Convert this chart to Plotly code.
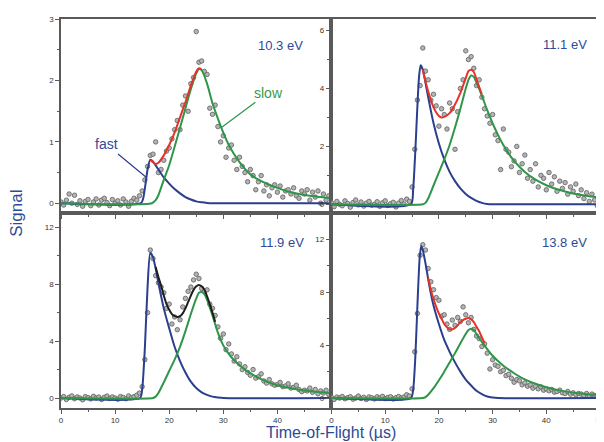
import plotly.graph_objects as go
from plotly.subplots import make_subplots

# =============================================================================
# DATA
# =============================================================================

# measured points, sampled every 0.5 us from 0 to 50 us
t_data = [i * 0.5 for i in range(101)]

sig_103 = [0.02, -0.03, 0.05, 0.15, 0.0, 0.13, -0.02, 0.04, -0.05, 0.03,
           0.06, -0.04, 0.02, 0.07, -0.03, 0.05, 0.08, 0.01, -0.04, 0.06,
           0.0, 0.04, -0.03, 0.07, 0.02, -0.05, 0.03, 0.08, 0.05, 0.12,
           0.2, 0.38, 0.6, 0.78, 0.8, 1.0, 0.5, 0.55, 0.7, 0.85,
           0.9, 1.05, 1.2, 1.35, 1.2, 1.6, 1.75, 1.5, 1.95, 2.05,
           2.8, 2.3, 2.32, 2.15, 2.1, 1.55, 1.45, 1.6, 1.25, 1.0,
           1.1, 0.75, 0.9, 0.95, 0.7, 0.55, 0.75, 0.6, 0.5, 0.35,
           0.55, 0.45, 0.22, 0.35, 0.45, 0.2, 0.3, 0.12, 0.25, 0.3,
           0.18, 0.28, 0.1, 0.2, 0.22, 0.15, 0.25, 0.12, 0.08, 0.2,
           0.15, 0.22, 0.05, 0.18, 0.1, 0.2, 0.0, 0.15, 0.05, 0.12, 0.08]

sig_111 = [0.05, -0.08, 0.1, 0.0, -0.05, 0.12, 0.03, -0.1, 0.06, 0.15,
           -0.02, 0.08, -0.06, 0.04, 0.1, -0.03, 0.0, 0.09, -0.07, 0.05,
           0.12, -0.04, 0.02, 0.07, -0.09, 0.04, 0.13, 0.01, 0.18, 0.1,
           0.6, 1.9, 3.6, 4.1, 5.4, 4.6, 4.3, 3.6, 3.8, 3.4,
           2.7, 3.3, 3.1, 2.6, 3.5, 3.3, 1.9, 3.2, 4.0, 4.3,
           5.3, 5.0, 5.1, 4.7, 4.1, 4.3, 3.7, 3.3, 3.05, 2.8,
           3.1, 2.4, 2.2, 1.2, 2.6, 1.9, 1.8, 1.3, 1.5, 2.0,
           1.1, 1.4, 1.7, 0.9, 1.2, 0.8, 1.4, 0.6, 1.0, 0.9,
           0.5, 1.1, 0.7, 0.95, 0.45, 0.8, 0.55, 0.75, 0.35, 0.6,
           0.45, 0.7, 0.3, 0.5, 0.2, 0.4, 0.1, 0.35, 0.15, -0.05, 0.2]

sig_119 = [0.0, 0.1, -0.1, 0.05, 0.15, -0.05, 0.08, 0.0, -0.12, 0.1,
           0.03, -0.06, 0.12, 0.0, 0.07, -0.1, 0.05, 0.14, -0.03, 0.08,
           0.0, -0.08, 0.1, 0.04, -0.05, 0.15, 0.02, 0.1, 0.2, 0.35,
           0.8, 2.7, 6.0, 10.4, 9.8, 8.6, 8.1, 7.8, 7.4, 6.3,
           6.6, 5.2, 5.7, 4.8, 5.5, 6.4, 7.0, 7.5, 7.8, 8.3,
           8.7, 8.4, 7.7, 7.5, 7.6, 6.6, 6.3, 5.8, 5.0, 4.2,
           4.5, 3.4, 3.8, 3.1, 2.6, 2.9, 2.4, 2.0, 2.2, 1.8,
           1.6, 2.0, 1.4, 1.5, 1.7, 1.2, 1.05, 1.3, 1.0, 0.9,
           0.95, 1.1, 0.8, 0.85, 1.0, 0.7, 0.75, 0.9, 0.6, 0.45,
           0.55, 0.5, 0.7, 0.4, 0.6, 0.3, 0.5, 0.35, 0.55, 0.25, 0.4]

sig_138 = [0.05, -0.1, 0.08, 0.0, 0.12, -0.05, 0.03, 0.1, -0.08, 0.0,
           0.15, -0.03, 0.06, -0.1, 0.09, 0.02, -0.06, 0.1, 0.0, 0.13,
           -0.04, 0.05, 0.1, -0.07, 0.03, 0.12, 0.0, 0.08, 0.25, 0.15,
           0.7, 3.5, 6.4, 10.8, 11.6, 11.2, 9.8, 8.8, 8.2, 7.6,
           7.4, 6.2, 6.3, 5.6, 5.2, 5.9, 5.5, 6.1, 5.8, 6.9,
           6.3, 5.7, 6.1, 5.2, 4.7, 4.5, 3.9, 4.1, 3.4, 2.2,
           2.9, 2.5, 2.4, 2.0, 2.1, 1.7, 1.8, 1.5, 1.2, 1.4,
           1.3, 1.0, 1.15, 0.9, 1.0, 0.75, 0.9, 0.7, 0.85, 0.6,
           0.7, 0.55, 0.65, 0.45, 0.5, 0.6, 0.4, 0.35, 0.5, 0.3,
           0.4, 0.25, 0.35, 0.3, 0.2, 0.35, 0.15, 0.3, 0.2, 0.1, 0.25]

# fitted components: fast (blue), slow (green), total (red / black)
fast_t_103 = [0, 14.8, 15.2, 15.6, 16.0, 16.5, 17, 18, 19, 20, 21, 22, 23, 24, 25, 26, 27, 28, 50]
fast_y_103 = [0, 0, 0.08, 0.3, 0.55, 0.71, 0.68, 0.55, 0.42, 0.32, 0.23, 0.16, 0.1, 0.06, 0.03, 0.015, 0.005, 0, 0]
slow_t_103 = [0, 16.8, 17.5, 18, 19, 20, 21, 22, 23, 24, 25, 25.5, 26, 27, 28, 29, 30, 31, 32, 33,
              34, 35, 36, 38, 40, 42, 44, 46, 48, 50]
slow_y_103 = [0, 0, 0.05, 0.13, 0.38, 0.62, 0.92, 1.23, 1.55, 1.86, 2.12, 2.19, 2.17, 1.95, 1.63, 1.38,
              1.15, 0.95, 0.8, 0.67, 0.56, 0.47, 0.41, 0.32, 0.25, 0.19, 0.15, 0.12, 0.1, 0.08]
sum_t_103 = [16.5, 17, 17.5, 18, 19, 20, 21, 22, 23, 24, 25, 25.5, 26]
sum_y_103 = [0.71, 0.67, 0.64, 0.66, 0.78, 0.95, 1.15, 1.4, 1.65, 1.92, 2.15, 2.2, 2.18]

fast_t_111 = [0, 14.8, 15.2, 15.6, 16.0, 16.3, 16.6, 17, 17.5, 18, 19, 20, 21, 22, 23, 24, 25, 26, 27,
              28, 29, 30, 50]
fast_y_111 = [0, 0, 0.5, 1.8, 3.4, 4.4, 4.8, 4.65, 4.2, 3.7, 2.8, 2.1, 1.55, 1.12, 0.8, 0.55, 0.36,
              0.22, 0.12, 0.05, 0.01, 0, 0]
slow_t_111 = [0, 17, 17.5, 18, 19, 20, 21, 22, 23, 24, 25, 25.5, 26, 26.5, 27, 28, 29, 30, 31, 32,
              33, 34, 35, 36, 38, 40, 42, 44, 46, 48, 50]
slow_y_111 = [0, 0, 0.05, 0.2, 0.65, 1.1, 1.55, 2.05, 2.65, 3.3, 4.0, 4.3, 4.45, 4.4, 4.2, 3.75, 3.25,
              2.8, 2.4, 2.05, 1.75, 1.5, 1.3, 1.12, 0.85, 0.66, 0.52, 0.42, 0.34, 0.28, 0.23]
sum_t_111 = [17, 17.5, 18, 19, 20, 20.5, 21, 22, 23, 24, 25, 25.5, 26, 26.5, 27, 28]
sum_y_111 = [4.65, 4.25, 3.9, 3.35, 3.05, 3.0, 3.02, 3.15, 3.45, 3.85, 4.36, 4.6, 4.65, 4.57, 4.32, 3.8]

fast_t_119 = [0, 14.6, 15.0, 15.5, 16.0, 16.5, 17, 17.5, 18, 19, 20, 21, 22, 23, 24, 25, 26, 27, 28,
              29, 30, 50]
fast_y_119 = [0, 0, 0.6, 3.5, 7.8, 10.2, 9.9, 9.1, 8.1, 6.3, 4.9, 3.6, 2.6, 1.8, 1.15, 0.7, 0.4, 0.22,
              0.1, 0.04, 0, 0]
slow_t_119 = [0, 17, 17.5, 18, 19, 20, 21, 22, 23, 24, 25, 25.5, 26, 26.5, 27, 28, 29, 30, 31, 32,
              33, 34, 35, 36, 38, 40, 42, 44, 46, 48, 50]
slow_y_119 = [0, 0, 0.1, 0.35, 1.1, 1.9, 2.7, 3.6, 4.7, 5.9, 7.0, 7.4, 7.45, 7.3, 6.9, 5.8, 4.6, 3.7,
              3.1, 2.65, 2.3, 2.0, 1.75, 1.52, 1.15, 0.9, 0.72, 0.58, 0.48, 0.4, 0.34]
sum_t_119 = [17.5, 18, 18.5, 19, 19.5, 20, 20.5, 21, 21.5, 22, 22.5, 23, 23.5, 24, 24.5, 25, 25.5, 26,
             26.5, 27, 27.5, 28, 28.5]
sum_y_119 = [9.2, 8.5, 7.9, 7.2, 6.6, 6.2, 5.9, 5.75, 5.7, 5.75, 5.95, 6.3, 6.75, 7.2, 7.6, 7.85, 7.95,
             7.85, 7.6, 7.15, 6.6, 6.0, 5.35]

fast_t_138 = [0, 14.8, 15.2, 15.6, 16.0, 16.4, 16.7, 17, 17.5, 18, 18.5, 19, 20, 21, 22, 23, 24, 25,
              26, 27, 28, 29, 30, 31, 50]
fast_y_138 = [0, 0, 0.6, 3.0, 7.0, 10.5, 11.5, 11.2, 10.2, 9.0, 7.9, 7.0, 5.6, 4.4, 3.5, 2.7, 2.0, 1.4,
              0.95, 0.55, 0.3, 0.12, 0.04, 0, 0]
slow_t_138 = [0, 17, 17.5, 18, 19, 20, 21, 22, 23, 24, 25, 25.5, 26, 26.5, 27, 28, 29, 30, 31, 32,
              33, 34, 35, 36, 38, 40, 42, 44, 46, 48, 50]
slow_y_138 = [0, 0, 0.08, 0.25, 0.75, 1.35, 2.0, 2.7, 3.4, 4.15, 4.85, 5.15, 5.25, 5.15, 4.85, 4.25, 3.7,
              3.2, 2.8, 2.45, 2.15, 1.88, 1.63, 1.42, 1.08, 0.82, 0.62, 0.47, 0.36, 0.28, 0.22]
sum_t_138 = [18, 18.5, 19, 19.5, 20, 20.5, 21, 21.5, 22, 22.5, 23, 23.5, 24, 24.5, 25, 25.5, 26, 26.5,
             27, 27.5, 28, 28.5]
sum_y_138 = [9.1, 8.2, 7.5, 6.9, 6.4, 6.0, 5.6, 5.35, 5.2, 5.2, 5.3, 5.5, 5.75, 5.9, 6.0, 6.05, 5.95,
             5.75, 5.4, 5.05, 4.6, 4.15]

energy_labels = ['10.3 eV', '11.1 eV', '11.9 eV', '13.8 eV']

# =============================================================================
# STYLE
# =============================================================================

BLUE = '#2b3f8e'
GREEN = '#2f9548'
RED = '#e5332a'
BLACK = '#1e1e1e'
TEXT_BLUE = '#2d4a98'
AXIS = '#5a5a5a'
FONT = 'Liberation Sans, Arial'

# plot area in figure pixels (page body adds an 8 px offset)
L, T, PW, PH = 53, 7, 542, 393
W, H = 604, 442

panels = [
    dict(row=1, col=1, sig=sig_103, fast=(fast_t_103, fast_y_103), slow=(slow_t_103, slow_y_103),
         tot=(sum_t_103, sum_y_103), tot_color=RED, yrange=[-0.16, 3.005], dtick=1, minor=0.5,
         label=energy_labels[0], lx=0.8125, ly=0.862),
    dict(row=1, col=2, sig=sig_111, fast=(fast_t_111, fast_y_111), slow=(slow_t_111, slow_y_111),
         tot=(sum_t_111, sum_y_111), tot_color=RED, yrange=[-0.3, 6.4], dtick=2, minor=1,
         label=energy_labels[1], lx=0.87, ly=0.867),
    dict(row=2, col=1, sig=sig_119, fast=(fast_t_119, fast_y_119), slow=(slow_t_119, slow_y_119),
         tot=(sum_t_119, sum_y_119), tot_color=BLACK, yrange=[-0.7, 13.0], dtick=4, minor=2,
         label=energy_labels[2], lx=0.816, ly=0.847),
    dict(row=2, col=2, sig=sig_138, fast=(fast_t_138, fast_y_138), slow=(slow_t_138, slow_y_138),
         tot=(sum_t_138, sum_y_138), tot_color=RED, yrange=[-0.75, 14.0], dtick=4, minor=2,
         label=energy_labels[3], lx=0.867, ly=0.847),
]

fig = make_subplots(rows=2, cols=2, horizontal_spacing=0, vertical_spacing=0,
                    column_widths=[272, 270], row_heights=[196, 197])

for p in panels:
    r, c = p['row'], p['col']
    fig.add_trace(go.Scatter(x=t_data, y=p['sig'], mode='markers', showlegend=False,
                             marker=dict(size=4.5, color='#b4b4b4', line=dict(color='#5e5e5e', width=0.8))),
                  row=r, col=c)
    for (tt, yy), color in [(p['fast'], BLUE), (p['slow'], GREEN), (p['tot'], p['tot_color'])]:
        fig.add_trace(go.Scatter(x=tt, y=yy, mode='lines', showlegend=False,
                                 line=dict(color=color, width=2, shape='spline', smoothing=0.6)),
                      row=r, col=c)

    tickvals = [0, 10, 20, 30, 40] if c == 1 else [0, 10, 20, 30, 40, 50]
    fig.update_xaxes(range=[0, 50], tickvals=tickvals, showticklabels=(r == 2),
                     ticks='outside', ticklen=4, tickcolor=AXIS,
                     minor=dict(dtick=5, tick0=0, ticks='outside', ticklen=2.5, tickcolor=AXIS),
                     showline=True, linecolor=AXIS, linewidth=1.5, mirror=True,
                     showgrid=False, zeroline=False, row=r, col=c)
    fig.update_yaxes(range=p['yrange'], dtick=p['dtick'], tick0=0,
                     ticks='outside', ticklen=4, tickcolor=AXIS,
                     minor=dict(dtick=p['minor'], tick0=0, ticks='outside', ticklen=2.5, tickcolor=AXIS),
                     showline=True, linecolor=AXIS, linewidth=1.5, mirror=True,
                     showgrid=False, zeroline=False, row=r, col=c)

    n = (r - 1) * 2 + c
    suffix = '' if n == 1 else str(n)
    fig.add_annotation(x=p['lx'], y=p['ly'], xref=f'x{suffix} domain', yref=f'y{suffix} domain',
                       text=p['label'], showarrow=False, xanchor='center', yanchor='middle',
                       font=dict(size=13, color=TEXT_BLUE, family=FONT))

# component labels in the 10.3 eV panel
fig.add_annotation(x=15.8, y=0.42, xref='x', yref='y', text='fast', showarrow=True,
                   arrowhead=0, arrowwidth=1.2, arrowcolor=BLUE, ax=-40, ay=-33,
                   font=dict(size=14, color=TEXT_BLUE, family=FONT))
fig.add_annotation(x=29.6, y=1.23, xref='x', yref='y', text='slow', showarrow=True,
                   arrowhead=0, arrowwidth=1.2, arrowcolor=GREEN, ax=47, ay=-35,
                   font=dict(size=14, color='#3a9a4c', family=FONT))

# shared axis titles
fig.add_annotation(x=(8 - L) / PW, y=0.5, xref='paper', yref='paper', text='Signal',
                   textangle=-90, showarrow=False, xanchor='center', yanchor='middle',
                   font=dict(size=17, color=TEXT_BLUE, family=FONT))
fig.add_annotation(x=(325 - L) / PW, y=(T + PH - 425) / PH, xref='paper', yref='paper',
                   text='Time-of-Flight (\u00b5s)', showarrow=False, xanchor='center', yanchor='middle',
                   font=dict(size=16, color=TEXT_BLUE, family=FONT))

fig.update_layout(width=W, height=H, margin=dict(l=L, r=W - L - PW, t=T, b=H - T - PH),
                  paper_bgcolor='white', plot_bgcolor='white',
                  font=dict(family=FONT, size=8, color='#333333'))

fig.write_html("out.html")
